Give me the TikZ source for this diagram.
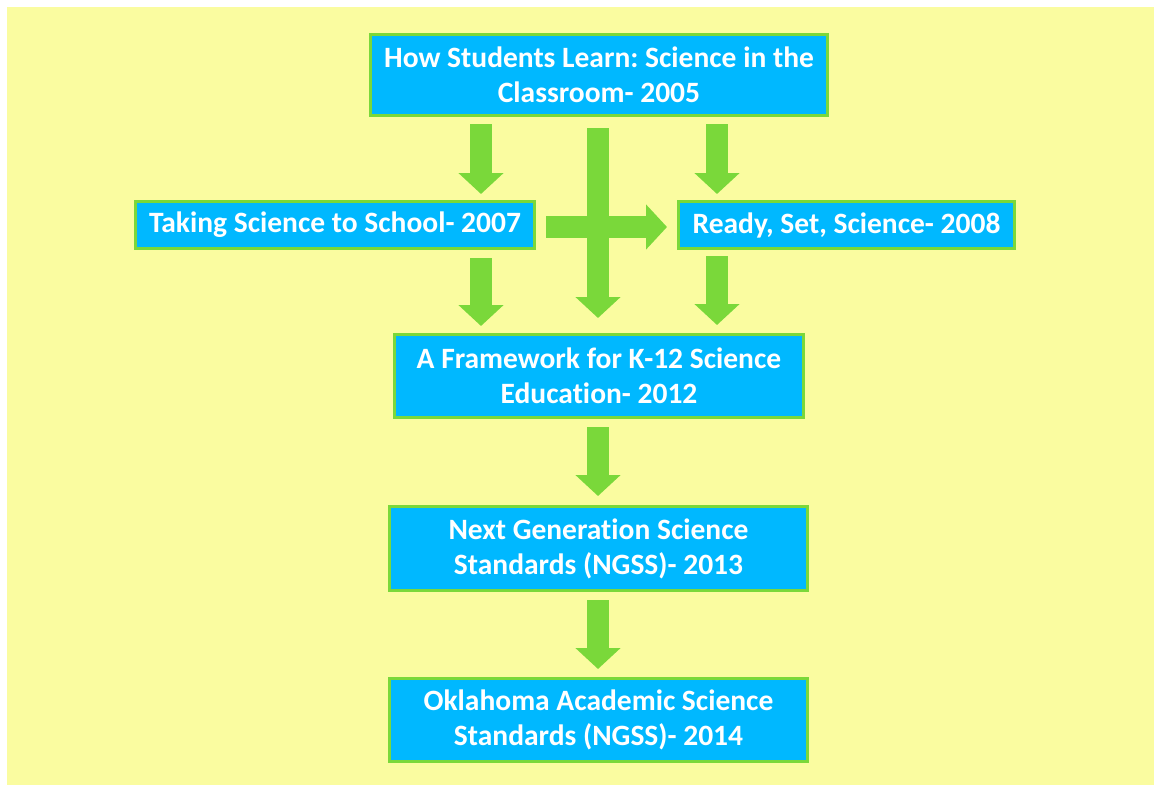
\documentclass[tikz,border=0pt]{standalone}
\usepackage{fontspec}
\setmainfont[Ligatures=NoCommon]{Carlito}
\usetikzlibrary{arrows.meta,calc}
\frenchspacing
\definecolor{bgyellow}{RGB}{250,252,160}
\definecolor{boxblue}{RGB}{0,184,255}
\definecolor{arrowgreen}{RGB}{122,216,58}
\tikzset{
  stepbox/.style={draw=arrowgreen, line width=3pt, fill=boxblue, text=white,
    font=\fontsize{29.5}{35}\selectfont\bfseries, align=center, inner sep=0pt},
  blockarrow/.style={draw=arrowgreen, line width=22pt,
    -{Triangle[length=21pt, width=44pt]}},
}
\begin{document}
\begin{tikzpicture}[x=1pt,y=-1pt]
  % page size, then white page with the yellow panel
  \useasboundingbox (0,0) rectangle (1154,785);
  \fill[white] (0,0) rectangle (1154,785);
  \fill[bgyellow] (7,7) rectangle (1154,785);

  % boxes
  \node[stepbox, minimum width=457pt, minimum height=81pt] (hsl) at (599,75)
    {How Students Learn: Science in the\\Classroom- 2005};
  \node[stepbox, minimum width=399pt, minimum height=47pt] (tss) at (335,225)
    {Taking Science to School- 2007};
  \node[stepbox, minimum width=336pt, minimum height=47pt] (rss) at (846.5,225)
    {Ready, Set, Science- 2008};
  \node[stepbox, minimum width=409pt, minimum height=83pt] (fw) at (599,376)
    {A Framework for K-12 Science\\Education- 2012};
  \node[stepbox, minimum width=418pt, minimum height=84pt] (ngss) at (598.5,548.5)
    {Next Generation Science\\Standards (NGSS)- 2013};
  \node[stepbox, minimum width=418pt, minimum height=83pt] (oass) at (598.5,720)
    {Oklahoma Academic Science\\Standards (NGSS)- 2014};

  % arrow columns
  \coordinate (cl) at (481,0);
  \coordinate (cc) at (598,0);
  \coordinate (cr) at (717,0);
  \coordinate (rowmid) at (0,227);

  % arrows
  \draw[blockarrow, shorten <=7pt, shorten >=6pt] (cl |- hsl.south) -- (cl |- tss.north);
  \draw[blockarrow, shorten <=7pt, shorten >=6pt] (cr |- hsl.south) -- (cr |- rss.north);
  \draw[blockarrow, shorten <=11pt, shorten >=15pt] (cc |- hsl.south) -- (cc |- fw.north);
  \draw[blockarrow, shorten <=10pt, shorten >=10pt] (tss.east |- rowmid) -- (rss.west |- rowmid);
  \draw[blockarrow, shorten <=8pt, shorten >=7pt] (cl |- tss.south) -- (cl |- fw.north);
  \draw[blockarrow, shorten <=6pt, shorten >=8pt] (cr |- rss.south) -- (cr |- fw.north);
  \draw[blockarrow, shorten <=8pt, shorten >=9pt] (cc |- fw.south) -- (cc |- ngss.north);
  \draw[blockarrow, shorten <=8pt, shorten >=8pt] (cc |- ngss.south) -- (cc |- oass.north);
\end{tikzpicture}
\end{document}
